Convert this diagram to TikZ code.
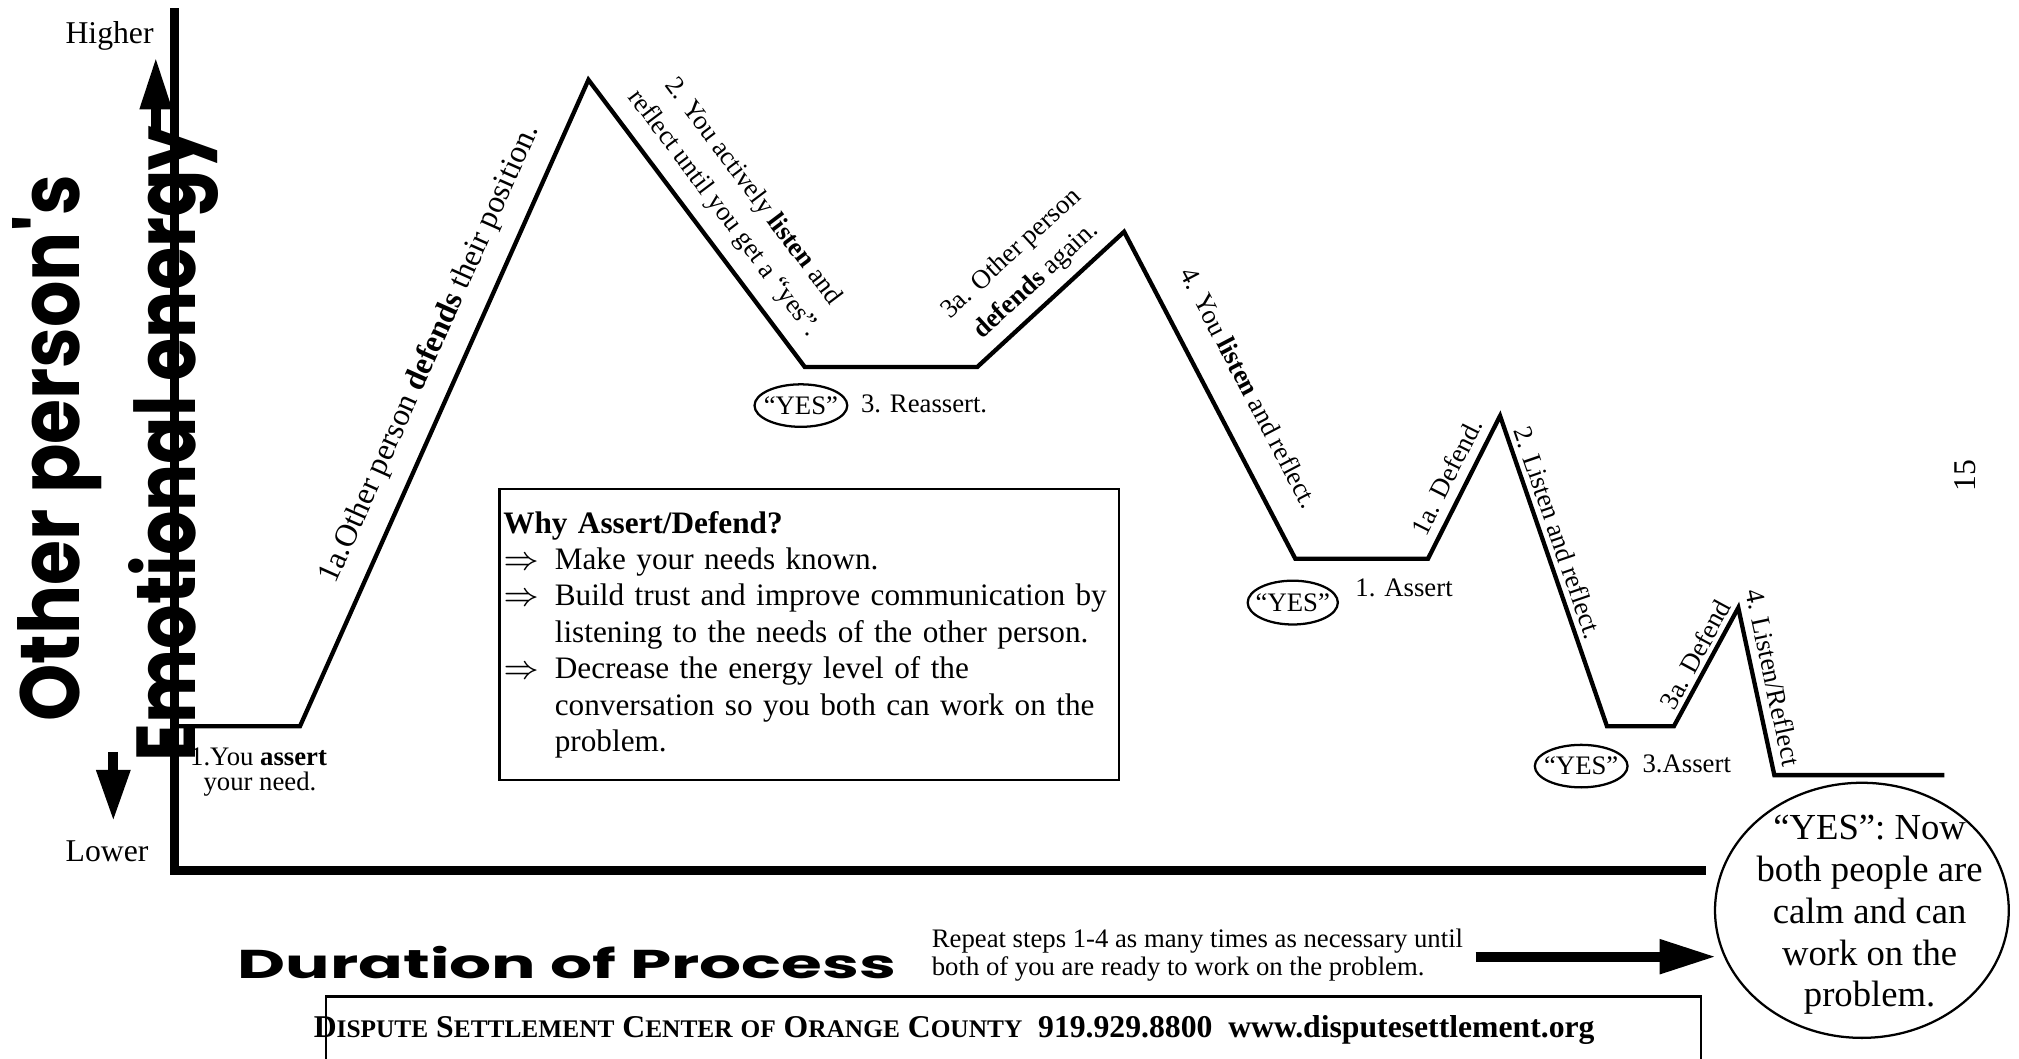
\documentclass[tikz,border=0pt]{standalone}
\usepackage{fontspec}
\setmainfont{Liberation Serif}
\newfontfamily\dispfont{Poppins}
\usepackage{graphicx}
\usetikzlibrary{arrows.meta}

\newcommand{\smc}[2]{#1{\fontsize{5.6pt}{7pt}\selectfont #2}}
\newcommand{\bul}{\makebox[0.4cm][l]{$\Rightarrow$}}
\newcommand{\ind}{\hspace*{0.4cm}}

\begin{document}
\begin{tikzpicture}[x=0.01cm, y=0.01cm,
    axisline/.style={line width=2pt, line join=miter},
    zig/.style={line width=0.95pt, line join=miter},
    blockarrow/.style={line width=0.08cm},
    ring/.style={line width=0.5pt},
    lbl/.style={font=\fontsize{5.9pt}{8pt}\selectfont, inner sep=0pt},
    onslope/.style={lbl, sloped, above, align=center},
    small/.style={font=\fontsize{7pt}{8pt}\selectfont, inner sep=0pt},
    disp/.style={inner sep=0pt}]
  \useasboundingbox (0,0) rectangle (1568,822);

  \draw[axisline] (135.7,815.5) -- (135.7,146) -- (1325,146);
  \draw[blockarrow, -{Triangle[length=0.41cm,width=0.23cm]}] (121,714) -- (121,778);
  \draw[blockarrow, -{Triangle[length=0.40cm,width=0.245cm]}] (88,238) -- (88,184);

  \node[small, anchor=base east] (hi) at (120,788) {Higher};
  \node[small, anchor=base east] (lo) at (116,153) {Lower};
  \node[disp, rotate=90, anchor=base west] (oth) at (62,261)
    {\resizebox{4.24cm}{0.52cm}{\dispfont\bfseries Other person's}};
  \node[disp, rotate=90, anchor=base west] (emo) at (152,230)
    {\resizebox{4.93cm}{0.52cm}{\dispfont\bfseries Emotional energy}};

  % the energy curve
  \coordinate (p0) at (136,258);
  \coordinate (p1) at (233,258);
  \coordinate (p2) at (457,760);
  \coordinate (p3) at (625,537);
  \coordinate (p4) at (759,537);
  \coordinate (p5) at (873,642);
  \coordinate (p6) at (1006,388);
  \coordinate (p7) at (1109,388);
  \coordinate (p8) at (1165,499);
  \coordinate (p9) at (1248,258);
  \coordinate (p10) at (1300,258);
  \coordinate (p11) at (1350,350);
  \coordinate (p12) at (1378,220);
  \coordinate (p13) at (1510,220);
  \draw[zig] (p0) -- (p1) -- (p2) -- (p3) -- (p4) -- (p5) -- (p6) -- (p7)
    -- (p8) -- (p9) -- (p10) -- (p11) -- (p12) -- (p13);

  \path (p1) -- (p2) node[onslope, pos=.555, inner ysep=0.135cm,
    font=\fontsize{7pt}{8pt}\selectfont] (defA) {1a.Other person \textbf{defends} their position.};
  \path (p2) -- (p3) node[onslope, pos=.523, inner ysep=0.11cm] (lisA)
    {2. You actively \textbf{listen} and\\reflect until you get a “yes”.};
  \path (p4) -- (p5) node[onslope, pos=.51, inner ysep=0.08cm] (defB)
    {3a. Other person\\\textbf{defends} again.};
  \path (p5) -- (p6) node[onslope, pos=.532, inner ysep=0.22cm] (lisB)
    {4. You \textbf{listen} and reflect.};
  \path (p7) -- (p8) node[onslope, pos=.51, inner ysep=0.077cm] (defC) {1a. Defend.};
  \path (p8) -- (p9) node[onslope, pos=.395, inner ysep=0.05cm] (lisC) {2. Listen and reflect.};
  \path (p10) -- (p11) node[onslope, pos=.543, inner ysep=0.04cm] (defD) {3a. Defend};
  \path (p11) -- (p12) node[onslope, pos=.44, inner ysep=0.07cm] (lisD) {4. Listen/Reflect};

  \node[lbl, anchor=north west, align=left, font=\fontsize{5.9pt}{5.5pt}\selectfont] (you) at (147,242)
    {1.You \textbf{assert}\\\hspace*{0.5em}your need.};

  \node[lbl] (yesA) at (622,507) {“YES”};
  \draw[ring] (yesA) ellipse [x radius=0.36cm, y radius=0.165cm];
  \node[lbl, anchor=base west] (reA) at (668,502) {3. Reassert.};
  \node[lbl] (yesB) at (1004,354) {“YES”};
  \draw[ring] (yesB) ellipse [x radius=0.35cm, y radius=0.17cm];
  \node[lbl, anchor=base west] (asB) at (1052,358.5) {1. Assert};
  \node[lbl] (yesC) at (1228,227) {“YES”};
  \draw[ring] (yesC) ellipse [x radius=0.36cm, y radius=0.165cm];
  \node[lbl, anchor=base west] (asC) at (1275,222) {3.Assert};

  \node[draw, line width=0.5pt, anchor=north west, align=left, text width=4.75cm,
    minimum height=2.26cm, inner xsep=0.03cm, inner ysep=0.1cm,
    font=\fontsize{6.9pt}{8.05pt}\selectfont] (why) at (387,443)
    {\textbf{Why Assert/Defend?}\\
     \bul Make your needs known.\\
     \bul Build trust and improve communication by\\
     \ind listening to the needs of the other person.\\
     \bul Decrease the energy level of the\\
     \ind conversation so you both can work on the\\
     \ind problem.};

  \node[small, rotate=90] (pg) at (1526.5,452.5) {15};

  \node[disp, anchor=base west] (dur) at (184,62)
    {\resizebox{5.11cm}{0.25cm}{\dispfont\bfseries Duration of Process}};
  \node[lbl, anchor=north west, align=left, font=\fontsize{5.9pt}{6.1pt}\selectfont] (rep) at (723,101)
    {Repeat steps 1-4 as many times as necessary until\\both of you are ready to work on the problem.};
  \coordinate (rtail) at (1146,79);
  \coordinate (rtip) at (1333,79);
  \draw[blockarrow, -{Triangle[length=0.44cm,width=0.25cm]}] (rtail) -- (rtip);

  \node[align=center, inner sep=0pt, font=\fontsize{8.1pt}{9.25pt}\selectfont] (yesbig) at (1452,111.5)
    {“YES”: Now\\both people are\\calm and can\\work on the\\problem.};
  \draw[ring] (1446,115) ellipse [x radius=1.14cm, y radius=0.99cm];

  \draw[ring] (253,-5) -- (253,48) -- (1321,48) -- (1321,-5);
  \node[anchor=base west, inner sep=0pt, font=\bfseries\fontsize{7pt}{8pt}\selectfont] (dsc) at (243,16)
    {\smc{D}{ISPUTE} \smc{S}{ETTLEMENT} \smc{C}{ENTER} {\fontsize{5.6pt}{7pt}\selectfont OF} \smc{O}{RANGE} \smc{C}{OUNTY}~~919.929.8800~~www.disputesettlement.org};
\end{tikzpicture}
\end{document}
